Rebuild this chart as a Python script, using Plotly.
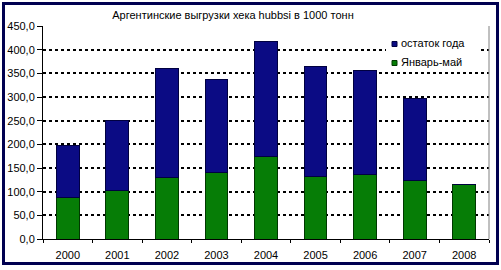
import plotly.graph_objects as go

years = ["2000", "2001", "2002", "2003", "2004", "2005", "2006", "2007", "2008"]
jan_may = [88, 102, 130, 141, 174, 132, 137, 123, 116]
rest_of_year = [108.5, 149, 231, 195, 244, 232, 219, 173, 0]
series_names = ["остаток года", "Январь-май"]
title_text = "Аргентинские выгрузки хека hubbsi в 1000 тонн"

W, H = 501, 270
ML, MR, MT, MB = 43, 12, 26, 31
PW, PH = W - ML - MR, H - MT - MB

def px(x):
    return (x - ML) / PW

def py(y):
    return 1 - (y - MT) / PH

navy = "#0b0b84"
green = "#067d06"
font = "Liberation Sans, Arial, sans-serif"

fig = go.Figure()
fig.add_trace(go.Bar(x=years, y=jan_may, name=series_names[1],
                     marker=dict(color=green, line=dict(color="#003800", width=1))))
fig.add_trace(go.Bar(x=years, y=rest_of_year, name=series_names[0],
                     marker=dict(color=navy, line=dict(color="#000040", width=1))))

shapes = [
    # outer frame
    dict(type="rect", xref="paper", yref="paper", x0=px(3.5), x1=px(497.5), y0=py(263.5), y1=py(3.5),
         line=dict(color="#000050", width=3), layer="above"),
    # right plot border
    dict(type="line", xref="paper", yref="paper", x0=1, x1=1, y0=0, y1=1,
         line=dict(color="#808080", width=1)),
    # legend box
    dict(type="rect", xref="paper", yref="paper", x0=px(386), x1=px(478), y0=py(72), y1=py(32),
         fillcolor="white", line=dict(width=0), layer="above"),
    dict(type="rect", xref="paper", yref="paper", x0=px(392), x1=px(397), y0=py(46.5), y1=py(41.5),
         fillcolor=navy, line=dict(color="#000040", width=1), layer="above"),
    dict(type="rect", xref="paper", yref="paper", x0=px(392), x1=px(397), y0=py(65.5), y1=py(60.5),
         fillcolor=green, line=dict(color="#003800", width=1), layer="above"),
]

annotations = [
    dict(xref="paper", yref="paper", x=px(399), y=py(43), text=series_names[0], showarrow=False,
         xanchor="left", yanchor="middle", font=dict(size=11, color="black", family=font)),
    dict(xref="paper", yref="paper", x=px(399), y=py(62), text=series_names[1], showarrow=False,
         xanchor="left", yanchor="middle", font=dict(size=11, color="black", family=font)),
]

fig.update_layout(
    width=W, height=H,
    margin=dict(l=ML, r=MR, t=MT, b=MB),
    barmode="stack", bargap=0.54,
    plot_bgcolor="white", paper_bgcolor="white",
    showlegend=False,
    separators=", ",
    font=dict(family=font, size=11, color="black"),
    title=dict(text=title_text, xref="container", yref="container", x=233 / W, y=1 - 15 / H,
               xanchor="center", yanchor="middle", font=dict(size=11, color="black", family=font)),
    shapes=shapes, annotations=annotations,
)
fig.update_yaxes(range=[0, 450], dtick=50, tickformat=".1f", showgrid=True,
                 gridcolor="black", gridwidth=2, griddash="dot",
                 showline=True, linecolor="black", linewidth=1,
                 ticks="outside", ticklen=5, tickcolor="black", zeroline=False,
                 automargin=False,
                 tickfont=dict(size=11, family=font))
fig.update_xaxes(showline=True, linecolor="black", linewidth=1, ticks="outside", ticklen=3,
                 tickcolor="black", tickson="boundaries", showgrid=False,
                 ticklabelstandoff=6, automargin=False,
                 tickfont=dict(size=11, family=font))

fig.write_html("out.html")
